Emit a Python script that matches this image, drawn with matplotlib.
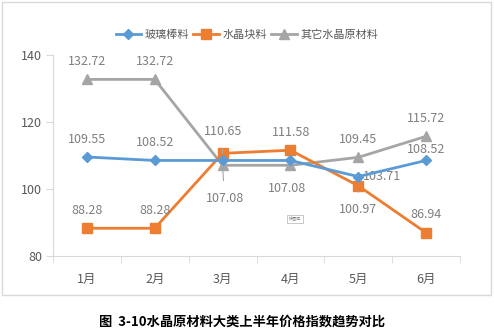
import matplotlib
matplotlib.use('Agg')

import matplotlib.pyplot as plt
import matplotlib.patches as mpatches
from matplotlib.lines import Line2D

plt.rcParams['font.family'] = ['Noto Sans CJK SC', 'DejaVu Sans']

months = ['1月', '2月', '3月', '4月', '5月', '6月']
glass_rod = [109.55, 108.52, 108.52, 108.52, 103.71, 108.52]
crystal_block = [88.28, 88.28, 110.65, 111.58, 100.97, 86.94]
other_raw = [132.72, 132.72, 107.08, 107.08, 109.45, 115.72]
y_ticks = [80, 100, 120, 140]

BLUE = '#5B9BD5'
ORANGE = '#ED7D31'
GRAY = '#A5A5A5'
TXT = '#595959'
LBL = '#7F7F7F'

fig = plt.figure(figsize=(4.94, 3.35), dpi=100)

# outer chart frame
fig.patches.append(mpatches.Rectangle((2 / 494, 1 - 295 / 335), 489 / 494, 293 / 335,
                                      transform=fig.transFigure, fill=False,
                                      edgecolor='#D9D9D9', linewidth=1))

ax = fig.add_axes([53 / 494, 1 - 256 / 335, 407 / 494, 201 / 335])
x = range(len(months))

ax.plot(x, glass_rod, color=BLUE, lw=2, marker='D', ms=5, zorder=4)
ax.plot(x, crystal_block, color=ORANGE, lw=2, marker='s', ms=7, zorder=3)
ax.plot(x, other_raw, color=GRAY, lw=2, marker='^', ms=7, zorder=2)

ax.set_xlim(-0.5, 5.5)
ax.set_ylim(80, 140)
ax.set_yticks(y_ticks)
ax.set_xticks(x)
ax.set_xticklabels(months)
ax.set_xticks([i - 0.5 for i in range(7)], minor=True)
ax.tick_params(axis='x', which='major', length=0, pad=12, labelsize=9, labelcolor=TXT)
ax.tick_params(axis='x', which='minor', length=5, color='#D9D9D9', direction='out')
ax.tick_params(axis='y', length=5, color='#D9D9D9', direction='out', labelsize=9,
               labelcolor=TXT, pad=3)
for side in ['top', 'right']:
    ax.spines[side].set_visible(False)
for side in ['left', 'bottom']:
    ax.spines[side].set_color('#D9D9D9')


def label(i, series, dx, dy, leader=False):
    v = series[i]
    kw = dict(textcoords='offset pixels', ha='center', va='center', fontsize=9, color=LBL)
    if leader:
        kw['arrowprops'] = dict(arrowstyle='-', color='#A6A6A6', lw=0.8, shrinkA=6, shrinkB=4)
    ax.annotate(f'{v:.2f}', (i, v), xytext=(dx, dy), **kw)


for i in [0, 1]:
    label(i, glass_rod, 0, 18)
label(5, glass_rod, 0, 11)
label(4, glass_rod, 24, 0)

for i in [0, 1, 5]:
    label(i, crystal_block, 0, 18)
label(2, crystal_block, 1, 22, leader=True)
label(3, crystal_block, 1, 18)
label(4, crystal_block, 0, -24, leader=True)

for i in [0, 1, 4, 5]:
    label(i, other_raw, 0, 18)
label(2, other_raw, 2, -33, leader=True)
label(3, other_raw, -3, -23, leader=True)

# small "绘图区" tag inside the plot area
ax.text((295 - 53) / 407, 1 - (219 - 55) / 201, '绘图区', transform=ax.transAxes,
        fontsize=3, color='#7F7F7F', ha='center', va='center',
        bbox=dict(boxstyle='square,pad=0.4', fc='white', ec='#BFBFBF', lw=0.6))

handles = [
    Line2D([], [], color=BLUE, lw=2, marker='D', ms=5),
    Line2D([], [], color=ORANGE, lw=2, marker='s', ms=7),
    Line2D([], [], color=GRAY, lw=2, marker='^', ms=7),
]
fig.legend(handles, ['玻璃棒料', '水晶块料', '其它水晶原材料'], loc='center',
           bbox_to_anchor=(0.5, 1 - 35 / 335), ncol=3, frameon=False, fontsize=8,
           labelcolor=TXT, handlelength=2.3, handletextpad=0.35, columnspacing=0.35)

fig.text(0.49, 1 - 322 / 335, '图  3-10水晶原材料大类上半年价格指数趋势对比',
         ha='center', va='center', fontsize=9.5, fontweight='bold', color='#000000')

fig.savefig('out.png', dpi=100)
